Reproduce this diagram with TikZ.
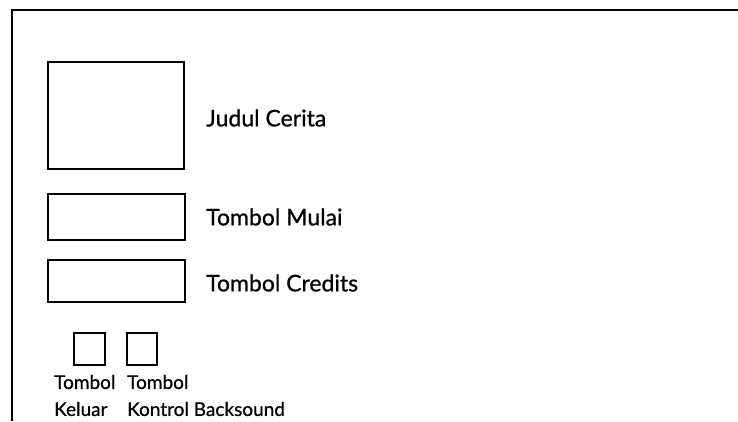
\documentclass[tikz,border=0pt]{standalone}
\usepackage{fontspec}
\setmainfont{Lato}
\newfontfamily\lblfont{Lato}[UprightFeatures={FakeBold=0.7}]
\begin{document}
\begin{tikzpicture}[x=1pt,y=-1pt,
  box/.style={draw=black,line width=1.6pt,inner sep=0pt,minimum width=0pt},
  lbl/.style={anchor=west,inner sep=0pt,font=\lblfont\fontsize{23}{26}\selectfont},
  small/.style={anchor=west,inner sep=0pt,font=\lblfont\fontsize{19}{22}\selectfont}]
\useasboundingbox[fill=white] (0,0) rectangle (738,421);
\coordinate (fb) at (12,421);
\coordinate (ftl) at (12,10);
\coordinate (fr) at (738,10);
\draw[line width=2.2pt] (fb) -- (ftl) -- (fr);
\node[box,minimum width=136pt,minimum height=107pt] (judulbox) at (116,115.5) {};
\node[box,minimum width=137pt,minimum height=46pt] (mulaibox) at (116.5,217) {};
\node[box,minimum width=137pt,minimum height=42pt] (creditsbox) at (116.5,281) {};
\node[box,minimum width=31pt,minimum height=32pt] (keluarbox) at (89.5,349) {};
\node[box,minimum width=30pt,minimum height=32pt] (kontrolbox) at (142,349) {};
\node[lbl] (judul) at (206,118) {Judul Cerita};
\node[lbl] (mulai) at (206,217) {Tombol Mulai};
\node[lbl] (credits) at (206,283) {Tombol Credits};
\node[small] (t1) at (54,382) {Tombol};
\node[small] (t2) at (127,382) {Tombol};
\node[small] (keluar) at (54,409) {Keluar};
\node[small] (kontrol) at (127,409) {Kontrol Backsound};
\end{tikzpicture}
\end{document}
